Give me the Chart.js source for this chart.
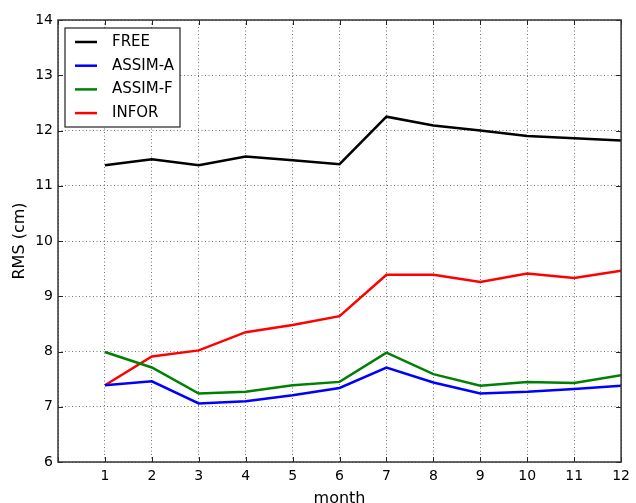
<!DOCTYPE html>
<html>
<head>
<meta charset="utf-8">
<script src="https://cdn.jsdelivr.net/npm/chart.js@4"></script>
<style>
  html, body { margin: 0; padding: 0; background: #fff; }
  #wrap { width: 636px; height: 503px; }
</style>
</head>
<body>
<div id="wrap"><canvas id="chartRms"></canvas></div>
<script>
// ===== Data =====
const months = [1, 2, 3, 4, 5, 6, 7, 8, 9, 10, 11, 12];
const freeRms = [11.37, 11.48, 11.37, 11.53, 11.46, 11.39, 12.25, 12.09, 12.0, 11.9, 11.86, 11.82];
const assimA = [7.39, 7.46, 7.06, 7.10, 7.21, 7.34, 7.71, 7.44, 7.24, 7.27, 7.32, 7.38];
const assimF = [7.99, 7.71, 7.24, 7.27, 7.39, 7.45, 7.98, 7.59, 7.38, 7.45, 7.43, 7.57];
const inforRms = [7.39, 7.91, 8.02, 8.35, 8.48, 8.64, 9.39, 9.39, 9.26, 9.41, 9.33, 9.46];
const seriesNames = ['FREE', 'ASSIM-A', 'ASSIM-F', 'INFOR'];
const seriesColors = ['#000000', '#0000ff', '#008000', '#ff0000'];

const FONT = '"DejaVu Sans", sans-serif';

function toPoints(vals) {
    return months.map((m, i) => ({ x: m, y: vals[i] }));
}

// ===== Frame with inward ticks on all four sides =====
const frameTicks = {
    id: 'frameTicks',
    afterDatasetsDraw(chart) {
        const { ctx, chartArea: a, scales: { x, y } } = chart;
        ctx.save();
        ctx.strokeStyle = '#222';
        ctx.lineWidth = 1;
        ctx.beginPath();
        x.ticks.forEach(t => {
            const px = Math.round(x.getPixelForValue(t.value)) + 0.5;
            ctx.moveTo(px, a.bottom); ctx.lineTo(px, a.bottom - 5);
            ctx.moveTo(px, a.top); ctx.lineTo(px, a.top + 5);
        });
        y.ticks.forEach(t => {
            const py = Math.round(y.getPixelForValue(t.value)) + 0.5;
            ctx.moveTo(a.left, py); ctx.lineTo(a.left + 5, py);
            ctx.moveTo(a.right, py); ctx.lineTo(a.right - 5, py);
        });
        ctx.stroke();
        ctx.lineWidth = 1.5;
        ctx.strokeStyle = '#333';
        ctx.strokeRect(a.left, a.top, a.right - a.left, a.bottom - a.top);
        ctx.restore();
    }
};

// ===== Legend box inside the plot (upper left) =====
const insideLegend = {
    id: 'insideLegend',
    afterDraw(chart) {
        const { ctx, chartArea: a } = chart;
        const bx = a.left + 7, by = a.top + 8, bw = 115, bh = 99;
        ctx.save();
        ctx.fillStyle = '#fff';
        ctx.fillRect(bx, by, bw, bh);
        ctx.strokeStyle = '#222';
        ctx.lineWidth = 1.2;
        ctx.strokeRect(bx, by, bw, bh);
        ctx.font = '15px ' + FONT;
        ctx.textBaseline = 'middle';
        chart.data.datasets.forEach((ds, i) => {
            const ry = by + 14 + i * 23.7;
            ctx.strokeStyle = ds.borderColor;
            ctx.lineWidth = 2.5;
            ctx.beginPath();
            ctx.moveTo(bx + 10, ry);
            ctx.lineTo(bx + 32, ry);
            ctx.stroke();
            ctx.fillStyle = '#000';
            ctx.fillText(ds.label, bx + 47, ry);
        });
        ctx.restore();
    }
};

const ctx = document.getElementById('chartRms');
new Chart(ctx, {
    type: 'line',
    data: {
        datasets: [freeRms, assimA, assimF, inforRms].map((vals, i) => ({
            label: seriesNames[i],
            data: toPoints(vals),
            borderColor: seriesColors[i],
            backgroundColor: seriesColors[i],
            borderWidth: 2.5,
            pointRadius: 0,
            tension: 0,
            fill: false
        }))
    },
    options: {
        responsive: true,
        maintainAspectRatio: false,
        animation: false,
        layout: { padding: { top: 20, right: 11, left: 0, bottom: 0 } },
        plugins: {
            legend: { display: false },
            tooltip: { enabled: false }
        },
        scales: {
            x: {
                type: 'linear',
                min: 0,
                max: 12,
                afterFit: s => { s.height = 41; },
                ticks: {
                    stepSize: 1,
                    autoSkip: false,
                    maxRotation: 0,
                    padding: 6,
                    color: '#000',
                    font: { family: FONT, size: 14 },
                    callback: v => (v === 0 ? '' : v)
                },
                grid: { color: 'rgba(0,0,0,0.55)', lineWidth: 1, drawTicks: false },
                border: { display: false, dash: [1, 2.5] },
                title: {
                    display: true,
                    text: 'month',
                    color: '#000',
                    font: { family: FONT, size: 16 },
                    padding: { top: 0, bottom: -5 }
                }
            },
            y: {
                min: 6,
                max: 14,
                afterFit: s => { s.width = 58; },
                ticks: {
                    stepSize: 1,
                    padding: 5,
                    color: '#000',
                    font: { family: FONT, size: 14 }
                },
                grid: { color: 'rgba(0,0,0,0.55)', lineWidth: 1, drawTicks: false },
                border: { display: false, dash: [1, 2.5] },
                title: {
                    display: true,
                    text: 'RMS (cm)',
                    color: '#000',
                    font: { family: FONT, size: 16 },
                    padding: { top: 10, bottom: 0 }
                }
            }
        }
    },
    plugins: [frameTicks, insideLegend]
});
</script>
</body>
</html>
